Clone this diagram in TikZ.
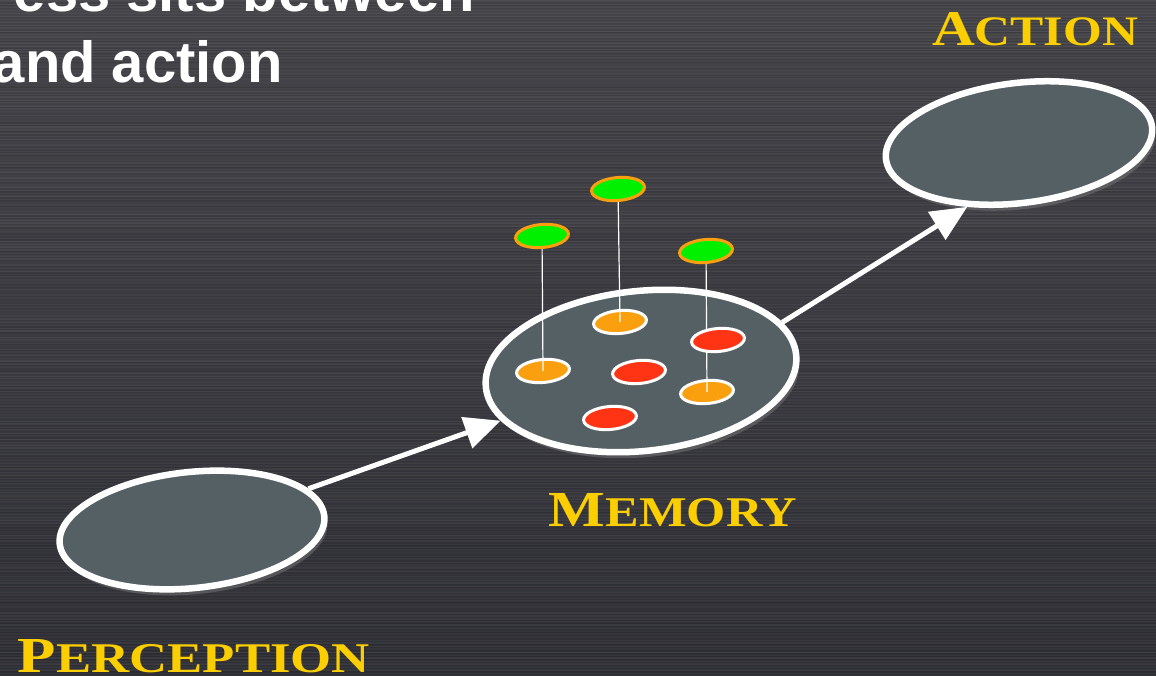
\documentclass[tikz,border=0pt]{standalone}
\usepackage{fontspec}
\usepackage{graphicx}
\usepackage{tikz}
\usetikzlibrary{positioning, shapes.geometric, arrows.meta, shadows}

\newfontfamily\headfont{Liberation Sans}
\newfontfamily\capfont{Liberation Serif}

\definecolor{bgtop}{RGB}{70,70,75}
\definecolor{bgmid}{RGB}{84,84,89}
\definecolor{bgbot}{RGB}{48,48,55}
\definecolor{poolfill}{RGB}{85,96,101}
\definecolor{gold}{RGB}{250,206,0}
\definecolor{chipgreen}{RGB}{0,240,0}
\definecolor{chiporange}{RGB}{250,160,15}
\definecolor{chipred}{RGB}{255,52,20}

% 小型大写：首字母大，其余小，再拉到给定宽度
\newcommand{\smallcap}[3]{\resizebox{#1}{33pt}{{\fontsize{50}{50}\selectfont #2}{\fontsize{42}{42}\selectfont #3}}}

\tikzset{
	pool/.style={ellipse, draw=white, line width=6.5pt, fill=poolfill, inner sep=0pt,
		drop shadow={shadow xshift=3pt, shadow yshift=-6pt, opacity=0.45}},
	chip/.style={ellipse, draw=white, line width=3pt, inner sep=0pt,
		minimum width=53pt, minimum height=23pt, rotate=5},
	okchip/.style={chip, draw=chiporange, fill=chipgreen},
	midchip/.style={chip, fill=chiporange},
	badchip/.style={chip, fill=chipred},
	stem/.style={draw=white, line width=1.2pt},
	flow/.style={draw=white, line width=5pt, -{Triangle[length=36pt,width=32pt]}},
	caplabel/.style={text=gold, font=\capfont\bfseries, anchor=base, inner sep=0pt},
	headline/.style={text=white, font=\headfont\bfseries\fontsize{58}{58}\selectfont,
		anchor=base east, inner sep=0pt}
}

\begin{document}
\begin{tikzpicture}[x=1pt, y=-1pt]
	\useasboundingbox (0,0) rectangle (1156,676);
	\clip (0,0) rectangle (1156,676);
	
	% 背景：深灰渐变 + 拉丝纹理
	\shade[top color=bgtop, middle color=bgmid, bottom color=bgbot] (0,0) rectangle (1156,676);
	\pgfmathsetseed{7}
	\foreach \y in {0,1.5,...,676} {
		\pgfmathsetmacro{\opw}{0.06*rnd}
		\pgfmathsetmacro{\opb}{0.12*rnd}
		\draw[white, opacity=\opw, line width=0.6pt] (0,\y) -- (1156,\y);
		\draw[black, opacity=\opb, line width=0.6pt] (0,\y+0.75) -- (1156,\y+0.75);
	}
	
	% 标题（左上角，被裁掉一部分）
	\node[headline] (head1) at (475,12) {ess sits between};
	\node[headline] (head2) at (283,83) {and action};
	
	% 三个大椭圆
	\node[pool, minimum width=266pt, minimum height=116pt, rotate=6] (percep) at (192,530) {};
	\node[pool, minimum width=312pt, minimum height=160pt, rotate=6] (memory) at (641,371) {};
	\node[pool, minimum width=268pt, minimum height=120pt, rotate=7] (action) at (1019,143) {};
	
	% 箭头
	\draw[flow] (percep) -- (memory);
	\draw[flow] (memory.13) -- (action.224);
	
	% 记忆中的小椭圆：橙色在下，绿色悬在上面
	\node[midchip] (o1) at (543,371) {};
	\node[midchip] (o2) at (620,322) {};
	\node[midchip] (o3) at (707,392) {};
	\node[okchip] (g1) at (542,236) {};
	\node[okchip] (g2) at (618,189) {};
	\node[okchip] (g3) at (706,251) {};
	\foreach \i in {1,2,3} \draw[stem] (g\i) -- (o\i.center);
	\node[badchip] (r1) at (718,340) {};
	\node[badchip] (r2) at (639,372) {};
	\node[badchip] (r3) at (610,418) {};
	
	% 标签
	\node[caplabel] (lblaction) at (1035,46) {\smallcap{206pt}{A}{CTION}};
	\node[caplabel] (lblmemory) at (673,526) {\smallcap{248pt}{M}{EMORY}};
	\node[caplabel] (lblpercep) at (194,672) {\smallcap{352pt}{P}{ERCEPTION}};
\end{tikzpicture}
\end{document}
